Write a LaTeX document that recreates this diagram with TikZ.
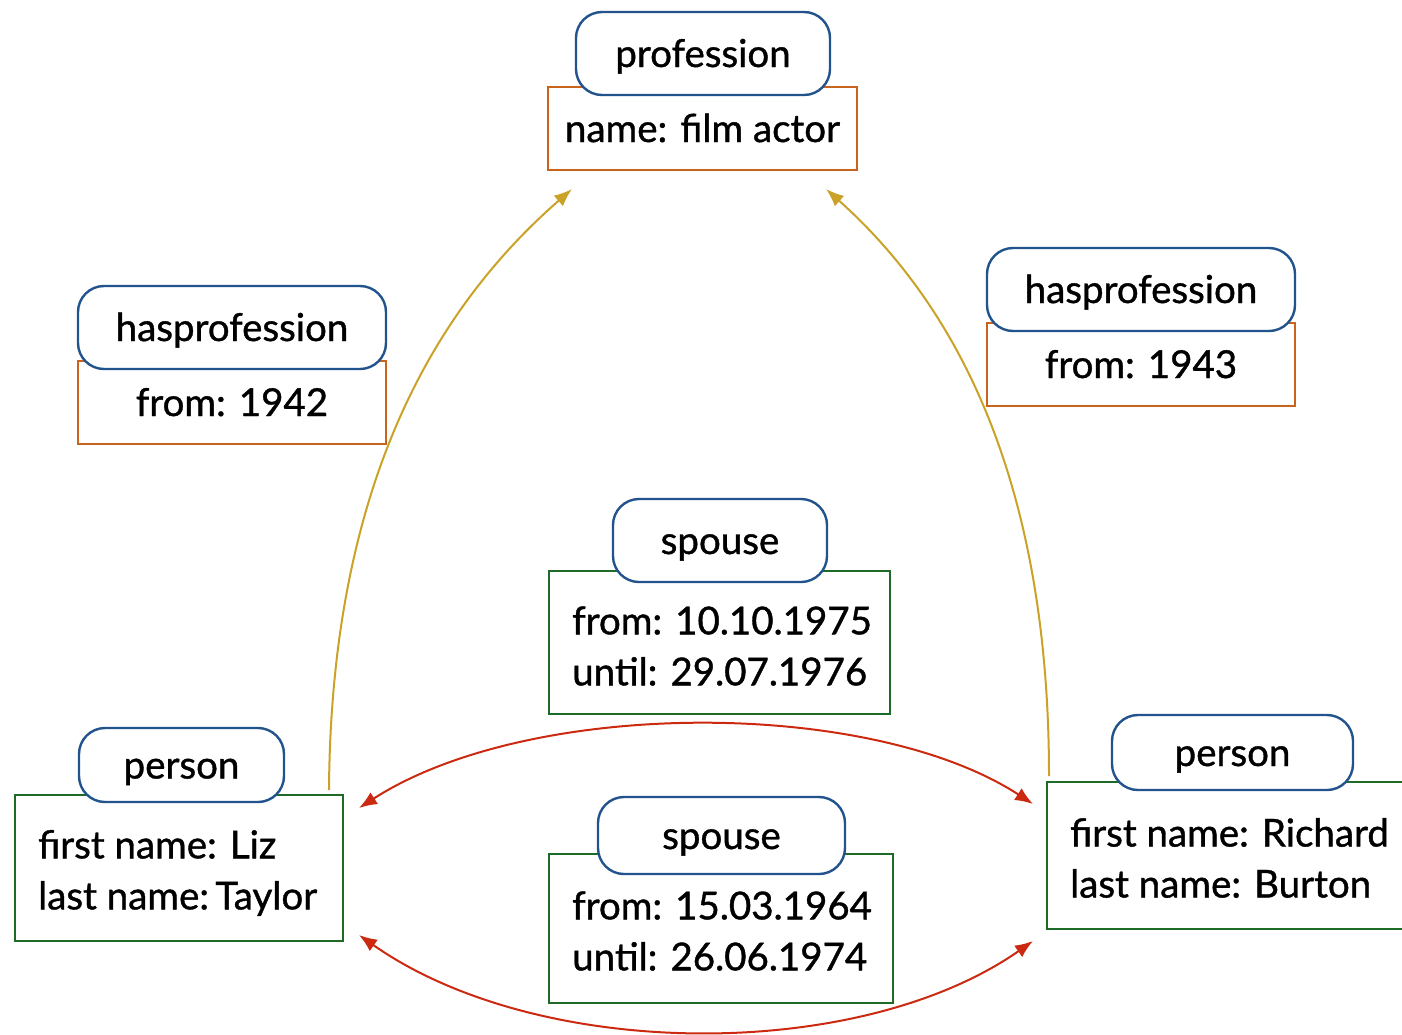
\documentclass[tikz,border=0pt]{standalone}
\usepackage{fontspec}
\setmainfont{Lato}[FakeBold=1.0]
\usetikzlibrary{arrows.meta}
\definecolor{cblue}{HTML}{22538C}
\definecolor{corange}{HTML}{C8641E}
\definecolor{cgreen}{HTML}{1E6B28}
\definecolor{cgold}{HTML}{C9A227}
\definecolor{cred}{HTML}{CC2A10}
\begin{document}
\begin{tikzpicture}[x=1pt,y=-1pt,
  font=\fontsize{38.5}{51}\selectfont,
  tagbox/.style={draw=cblue, line width=2.4pt, rounded corners=26pt, fill=white, inner sep=0pt, text height=34pt, text depth=7pt},
  obox/.style={draw=corange, line width=2.2pt, fill=white, inner sep=0pt, text height=34pt, text depth=7pt},
  gbox/.style={draw=cgreen, line width=2.2pt, fill=white, inner sep=0pt},
  txt/.style={inner sep=0pt, text=black, align=left},
  goldarrow/.style={draw=cgold, line width=2pt, -{Latex[length=18pt,width=14pt]}},
  redarrow/.style={draw=cred, line width=2pt, {Latex[length=18pt,width=14pt]}-{Latex[length=18pt,width=14pt]}}
]
\useasboundingbox (0,0) rectangle (1402,1034);

% profession
\node[obox, minimum width=309pt, minimum height=83pt] (profbox) at (702.5,128.5) {name: film actor};
\node[tagbox, minimum width=254pt, minimum height=83pt] (proftag) at (703,53.5) {profession};

% hasprofession left
\node[obox, minimum width=308pt, minimum height=83pt] (hpLbox) at (232,402.5) {from: 1942};
\node[tagbox, minimum width=308pt, minimum height=83pt] (hpLtag) at (232,327.5) {hasprofession};

% hasprofession right
\node[obox, minimum width=308pt, minimum height=83pt] (hpRbox) at (1141,364.5) {from: 1943};
\node[tagbox, minimum width=308pt, minimum height=83pt] (hpRtag) at (1141,289.5) {hasprofession};

% spouse top
\node[gbox, minimum width=341pt, minimum height=143pt] (spTbox) at (719.5,642.5) {};
\node[txt, anchor=west] (spTtext) at (572,646) {from: 10.10.1975\\until: 29.07.1976};
\node[tagbox, minimum width=214pt, minimum height=83pt] (spTtag) at (720,540.5) {spouse};

% spouse bottom
\node[gbox, minimum width=344pt, minimum height=149pt] (spBbox) at (721,928.5) {};
\node[txt, anchor=west] (spBtext) at (572,931) {from: 15.03.1964\\until: 26.06.1974};
\node[tagbox, minimum width=247pt, minimum height=77pt] (spBtag) at (721.5,835.5) {spouse};

% person Liz
\node[gbox, minimum width=328pt, minimum height=146pt] (lizbox) at (179,868) {};
\node[txt, anchor=west] (liztext) at (38,873) {first name: Liz\\last name:\,Taylor};
\node[tagbox, minimum width=205pt, minimum height=74pt] (liztag) at (181.5,765) {person};

% person Burton
\node[gbox, minimum width=370pt, minimum height=147pt] (burbox) at (1232,855.5) {};
\node[txt, anchor=west] (burtext) at (1070,858) {first name: Richard\\last name: Burton};
\node[tagbox, minimum width=241pt, minimum height=75pt] (burtag) at (1232.5,752.5) {person};

% arrow end points
\coordinate (profTipL) at (572,189);
\coordinate (profTipR) at (826,189);
\coordinate (lizStart) at (329,790);
\coordinate (burStart) at (1049,776);
\coordinate (lizTipT) at (359,808);
\coordinate (burTipT) at (1033,804);
\coordinate (lizTipB) at (359,935);
\coordinate (burTipB) at (1033,941);

\draw[goldarrow] (lizStart) .. controls (331,470) and (445,300) .. (profTipL);
\draw[goldarrow] (burStart) .. controls (1049,470) and (950,300) .. (profTipR);
\draw[redarrow] (lizTipT) .. controls (530,698) and (870,698) .. (burTipT);
\draw[redarrow] (lizTipB) .. controls (540,1062) and (860,1062) .. (burTipB);
\end{tikzpicture}
\end{document}
